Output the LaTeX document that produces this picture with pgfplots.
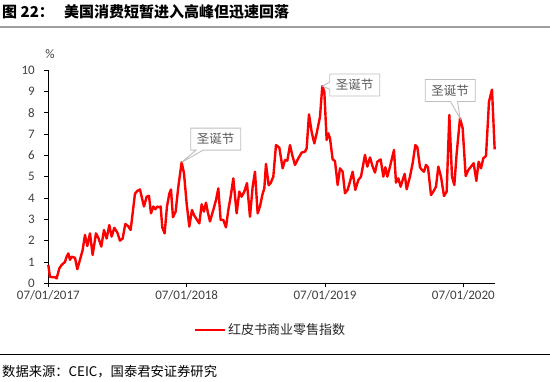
\documentclass[border=0pt]{standalone}
\usepackage{pgfplots}
\pgfplotsset{compat=1.18}
\usepackage{fontspec}
\setmainfont{Carlito}
\newfontfamily\cjk{Noto Sans CJK SC}
\usetikzlibrary{shapes.callouts}
\definecolor{tickgray}{HTML}{404040}
\definecolor{boxgray}{HTML}{BFBFBF}
\definecolor{boxtext}{HTML}{595959}
\begin{document}
\begin{tikzpicture}[x=1pt,y=1pt]
\path[use as bounding box] (0pt,0pt) rectangle (550pt,-382pt);
\node[anchor=west,font=\cjk\bfseries\fontsize{15}{17}\selectfont,inner sep=0pt] at (2pt,-12pt) {图\ 22：\ \ \ 美国消费短暂进入高峰但迅速回落};
\fill[gray!75] (0pt,-26.3pt) rectangle (550pt,-28.5pt);
\begin{axis}[
  at={(48.3pt,-283.3pt)}, anchor=south west, scale only axis,
  width=446.7pt, height=213.3pt,
  xmin=145, xmax=1485, ymin=0, ymax=10,
  axis lines*=left,
  axis line style={black, line width=0.9pt},
  tick align=outside, major tick length=4pt,
  tick style={black, line width=0.8pt},
  xtick={145,560,975,1390},
  xticklabels={07/01/2017,07/01/2018,07/01/2019,07/01/2020},
  ytick={0,1,...,10},
  /pgf/number format/assume math mode=true,
  ticklabel style={font=\fontsize{13}{15}\selectfont, text=tickgray},
  yticklabel style={xshift=-6pt},
  clip=false,
  legend style={at={(0.497,-0.219)}, anchor=center, draw=none, fill=none,
    font=\cjk\fontsize{13}{15}\selectfont, text=black!85},
  legend image code/.code={\draw[red, line width=2.5pt] (0pt,0pt) -- (30pt,0pt);},
]
\addplot[red, line width=2.4pt, line join=round] coordinates {
(145,0.86)(150,0.30)(165,0.28)(170,0.23)(178,0.70)(185,0.86)(195,1.00)(200,1.25)
(205,1.40)(210,1.10)(215,1.25)(220,1.22)(225,1.20)(232,0.66)(240,1.10)(248,1.56)
(255,2.27)(262,1.75)(270,2.34)(278,1.33)(288,2.34)(296,2.10)(304,1.72)(312,2.50)
(320,2.10)(328,2.73)(335,2.19)(343,2.60)(352,2.38)(360,2.00)(368,2.10)(376,2.78)
(384,2.69)(392,2.50)(405,4.20)(412,4.33)(420,4.40)(425,4.06)(432,3.60)(440,4.06)
(447,4.10)(453,3.28)(460,3.60)(466,3.47)(472,3.60)(478,3.56)(482,3.60)(487,2.62)
(494,2.34)(501,3.60)(508,4.20)(513,4.40)(519,3.10)(527,3.36)(535,4.53)(545,5.67)
(552,5.16)(560,3.75)(568,2.66)(576,3.44)(582,3.20)(590,3.00)(598,2.81)(605,3.70)
(612,3.36)(618,3.78)(624,3.30)(630,2.90)(640,3.44)(648,3.90)(655,4.45)(662,2.97)
(670,2.97)(678,2.62)(685,3.44)(692,4.06)(700,4.92)(710,3.28)(718,4.30)(725,4.06)
(733,4.30)(741,4.70)(750,3.12)(758,4.53)(765,5.23)(773,3.28)(780,3.60)(787,4.14)
(793,4.45)(798,5.60)(806,4.60)(812,4.70)(820,5.00)(828,6.48)(838,6.36)(848,5.39)
(855,5.78)(862,5.75)(870,6.48)(878,5.94)(885,5.55)(895,5.86)(905,6.13)(915,6.17)
(920,6.33)(927,7.92)(935,7.10)(943,6.56)(950,7.03)(960,7.81)(967,9.25)(973,8.98)
(980,6.72)(985,7.03)(990,6.80)(998,5.81)(1005,5.73)(1013,4.61)(1020,5.39)(1028,5.23)
(1035,4.22)(1043,4.38)(1050,4.77)(1058,5.23)(1066,4.38)(1075,4.84)(1083,5.00)(1095,6.02)
(1102,5.47)(1110,5.90)(1118,5.47)(1125,5.19)(1132,5.70)(1142,5.81)(1150,5.00)(1156,5.44)
(1162,5.00)(1170,5.47)(1182,6.25)(1188,4.72)(1195,4.92)(1202,4.53)(1208,4.84)(1214,5.13)
(1220,4.41)(1230,5.00)(1238,5.63)(1246,6.48)(1252,6.38)(1260,5.44)(1266,5.31)(1272,5.23)
(1278,5.55)(1284,5.44)(1293,4.14)(1300,4.30)(1308,4.53)(1315,5.47)(1323,5.00)(1332,4.09)
(1340,4.30)(1348,7.89)(1356,5.00)(1363,4.61)(1370,6.09)(1380,7.73)(1388,7.27)(1397,5.03)
(1405,5.31)(1413,5.47)(1421,5.63)(1429,4.80)(1436,5.70)(1443,5.39)(1450,5.86)(1458,5.97)
(1467,8.52)(1476,9.08)(1484,6.28)
};
\addlegendentry{红皮书商业零售指数}
\coordinate (c1) at (axis cs:545,5.67);
\coordinate (c2) at (axis cs:967,9.25);
\coordinate (c3) at (axis cs:1380,7.73);
\end{axis}
\node[font=\fontsize{13}{15}\selectfont, text=tickgray] at (50pt,-54pt) {\%};
\tikzset{cb/.style={rectangle callout, draw=boxgray, fill=white, line width=0.9pt,
  minimum width=50pt, minimum height=22pt, inner sep=0pt,
  font=\cjk\fontsize{12.5}{14}\selectfont, text=boxtext}}
\node[cb, callout absolute pointer={(c1)}] at (215.7pt,-139.2pt) {圣诞节};
\node[cb, callout absolute pointer={(c2)}] at (354.7pt,-85pt) {圣诞节};
\node[cb, callout absolute pointer={(c3)}] at (450.2pt,-90.5pt) {圣诞节};
\draw[black, line width=0.8pt] (0pt,-354pt) -- (550pt,-354pt);
\node[anchor=west, font=\cjk\fontsize{13.3}{15}\selectfont, inner sep=0pt] at (2pt,-372pt) {数据来源：CEIC，国泰君安证券研究};
\end{tikzpicture}
\end{document}
